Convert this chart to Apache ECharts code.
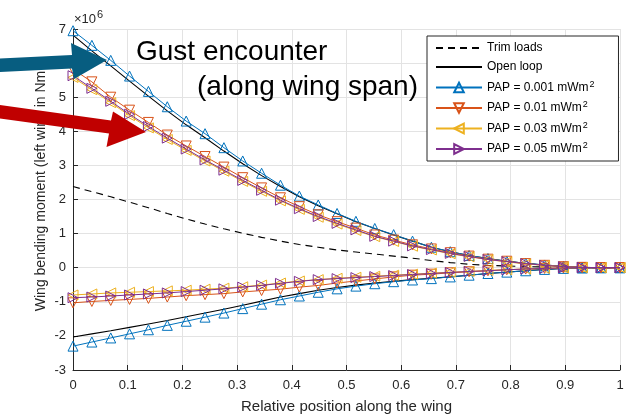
<!DOCTYPE html>
<html><head><meta charset="utf-8">
<script src="https://cdn.jsdelivr.net/npm/echarts@6/dist/echarts.min.js"></script>
<style>html,body{margin:0;padding:0;background:#fff}#c{width:631px;height:419px}</style>
</head><body><div id="c"></div>
<script>
// Relative position along the wing (30 stations)
const xPos = [0, 0.0345, 0.069, 0.1034, 0.1379, 0.1724, 0.2069, 0.2414, 0.2759, 0.3103,
  0.3448, 0.3793, 0.4138, 0.4483, 0.4828, 0.5172, 0.5517, 0.5862, 0.6207, 0.6552,
  0.6897, 0.7241, 0.7586, 0.7931, 0.8276, 0.8621, 0.8966, 0.9310, 0.9655, 1];
// values in units of 1e6 Nm
const trimLoads = [2.38, 2.23, 2.08, 1.92, 1.76, 1.59, 1.43, 1.28, 1.14, 1.01, 0.89, 0.78, 0.68, 0.60, 0.52, 0.46, 0.40, 0.34, 0.28, 0.21, 0.15, 0.10, 0.07, 0.05, 0.03, 0.02, 0.01, 0, 0, 0];
const openLoopTop = [6.82, 6.36, 5.92, 5.47, 5.03, 4.60, 4.19, 3.81, 3.42, 3.05, 2.70, 2.38, 2.08, 1.82, 1.58, 1.35, 1.15, 0.96, 0.78, 0.60, 0.47, 0.36, 0.27, 0.19, 0.13, 0.08, 0.04, 0.01, 0, 0];
const openLoopBottom = [-2.03, -1.94, -1.85, -1.75, -1.65, -1.55, -1.44, -1.33, -1.22, -1.10, -0.98, -0.86, -0.76, -0.66, -0.58, -0.51, -0.45, -0.40, -0.35, -0.31, -0.27, -0.22, -0.17, -0.13, -0.09, -0.05, -0.02, -0.01, 0, 0];
const pap001Top = [6.95, 6.52, 6.08, 5.62, 5.17, 4.72, 4.30, 3.93, 3.52, 3.13, 2.77, 2.42, 2.10, 1.84, 1.59, 1.36, 1.15, 0.97, 0.78, 0.60, 0.47, 0.36, 0.27, 0.19, 0.13, 0.08, 0.04, 0.01, 0, 0];
const pap001Bottom = [-2.30, -2.18, -2.06, -1.94, -1.82, -1.69, -1.57, -1.45, -1.33, -1.20, -1.07, -0.94, -0.83, -0.72, -0.62, -0.54, -0.47, -0.41, -0.36, -0.32, -0.27, -0.22, -0.17, -0.13, -0.09, -0.05, -0.02, -0.01, 0, 0];
const pap01Top = [5.82, 5.45, 5.00, 4.62, 4.26, 3.89, 3.57, 3.26, 2.95, 2.64, 2.34, 2.05, 1.79, 1.55, 1.35, 1.16, 0.96, 0.81, 0.67, 0.55, 0.44, 0.34, 0.25, 0.19, 0.12, 0.07, 0.03, 0.01, 0, 0];
const pap01Bottom = [-1.03, -0.99, -0.96, -0.93, -0.90, -0.86, -0.82, -0.79, -0.76, -0.71, -0.67, -0.63, -0.57, -0.52, -0.45, -0.39, -0.33, -0.27, -0.22, -0.19, -0.15, -0.12, -0.09, -0.06, -0.04, -0.02, -0.01, 0, 0, 0];
const pap03Top = [5.58, 5.22, 4.84, 4.46, 4.10, 3.76, 3.44, 3.13, 2.83, 2.53, 2.24, 1.96, 1.71, 1.48, 1.28, 1.09, 0.91, 0.77, 0.63, 0.52, 0.41, 0.32, 0.24, 0.17, 0.11, 0.07, 0.03, 0.01, 0, 0];
const pap03Bottom = [-0.80, -0.77, -0.74, -0.72, -0.70, -0.68, -0.66, -0.63, -0.60, -0.56, -0.51, -0.45, -0.39, -0.35, -0.31, -0.28, -0.25, -0.22, -0.19, -0.16, -0.13, -0.11, -0.08, -0.06, -0.04, -0.02, -0.01, 0, 0, 0];
const pap05Top = [5.63, 5.26, 4.88, 4.50, 4.14, 3.80, 3.48, 3.16, 2.86, 2.56, 2.27, 1.98, 1.73, 1.50, 1.30, 1.11, 0.92, 0.78, 0.64, 0.53, 0.42, 0.33, 0.24, 0.18, 0.12, 0.07, 0.03, 0.01, 0, 0];
const pap05Bottom = [-0.88, -0.86, -0.83, -0.80, -0.77, -0.74, -0.70, -0.66, -0.62, -0.57, -0.52, -0.46, -0.40, -0.35, -0.32, -0.29, -0.26, -0.23, -0.20, -0.17, -0.14, -0.11, -0.09, -0.06, -0.04, -0.02, -0.01, 0, 0, 0];

const names = ['Trim loads', 'Open loop', 'PAP = 0.001 mWm²', 'PAP = 0.01 mWm²', 'PAP = 0.03 mWm²', 'PAP = 0.05 mWm²'];
const FONT = 'Liberation Sans, Arial, Helvetica, sans-serif';

const chart = echarts.init(document.getElementById('c'), null, {renderer: 'canvas'});
const pts = arr => xPos.map((x, i) => [x, arr[i]]);

function plain(name, data, dashed, z) {
  return {name, type: 'line', data: pts(data), showSymbol: false, symbol: 'circle', symbolSize: 0,
    lineStyle: {color: '#000', width: 1.1, type: dashed ? [7, 5] : 'solid'},
    itemStyle: {color: 'rgba(0,0,0,0)', borderWidth: 0}, z, clip: false, animation: false, emphasis: {disabled: true}};
}
function marked(name, data, color, rot, z) {
  return {name, type: 'line', data: pts(data), symbol: 'triangle', symbolSize: 10, symbolRotate: rot,
    lineStyle: {color, width: 1}, itemStyle: {color: 'rgba(255,255,255,0)', borderColor: color, borderWidth: 1},
    z, clip: false, animation: false, emphasis: {disabled: true}};
}

const C1 = '#0072BD', C2 = '#D95319', C3 = '#EDB120', C4 = '#7E2F8E';

chart.setOption({
  backgroundColor: '#fff',
  animation: false,
  textStyle: {fontFamily: FONT},
  grid: {left: 73, right: 11, top: 29, bottom: 43, containLabel: false},
  xAxis: {
    type: 'value', min: 0, max: 1, interval: 0.1,
    name: 'Relative position along the wing', nameLocation: 'middle', nameGap: 29,
    nameTextStyle: {fontSize: 15, color: '#262626', fontFamily: FONT},
    axisLine: {onZero: false, lineStyle: {color: '#262626', width: 1}},
    axisTick: {inside: true, length: 5, lineStyle: {color: '#262626'}},
    axisLabel: {fontSize: 13, color: '#262626', margin: 9, fontFamily: FONT},
    splitLine: {show: true, lineStyle: {color: '#e3e3e3', width: 1}}
  },
  yAxis: {
    type: 'value', min: -3, max: 7, interval: 1,
    axisLine: {show: true, onZero: false, lineStyle: {color: '#262626', width: 1}},
    axisTick: {show: true, inside: true, length: 5, lineStyle: {color: '#262626'}},
    axisLabel: {fontSize: 13, color: '#262626', margin: 7, fontFamily: FONT},
    splitLine: {show: true, lineStyle: {color: '#e3e3e3', width: 1}}
  },
  legend: {
    orient: 'vertical', left: 427, top: 36, selectedMode: false,
    data: names,
    itemWidth: 46, itemHeight: 12, itemGap: 7,
    padding: [6, 24, 6, 8],
    backgroundColor: '#fff', borderColor: '#262626', borderWidth: 1,
    textStyle: {fontSize: 12, color: '#000', fontFamily: FONT,
      rich: {s: {fontSize: 9, padding: [0, 0, 6, 1], color: '#000', fontFamily: FONT}}},
    formatter: n => n.indexOf('²') >= 0 ? n.replace('²', '') + '{s|2}' : n
  },
  series: [
    plain(names[0], trimLoads, true, 2),
    plain(names[1], openLoopTop, false, 3),
    plain(names[1], openLoopBottom, false, 3),
    marked(names[2], pap001Top, C1, 0, 4),
    marked(names[2], pap001Bottom, C1, 0, 4),
    marked(names[3], pap01Top, C2, 180, 5),
    marked(names[3], pap01Bottom, C2, 180, 5),
    marked(names[4], pap03Top, C3, 90, 6),
    marked(names[4], pap03Bottom, C3, 90, 6),
    marked(names[5], pap05Top, C4, -90, 7),
    marked(names[5], pap05Bottom, C4, -90, 7)
  ],
  graphic: [
    {type: 'text', x: 74, y: 19, z: 20, style: {text: '{a|×10}{b|6}', textVerticalAlign: 'middle',
      rich: {a: {fontSize: 13, fill: '#262626', fontFamily: FONT}, b: {fontSize: 11, fill: '#262626', fontFamily: FONT, padding: [0, 0, 8, 1]}}}},
    {type: 'text', x: 41, y: 191, rotation: Math.PI / 2, z: 20,
      style: {text: 'Wing bending moment (left wing in Nm', font: '14px ' + FONT, fill: '#262626', textAlign: 'center', textVerticalAlign: 'middle'}},
    {type: 'text', x: 136, y: 52, z: 20,
      style: {text: 'Gust encounter', font: '28px ' + FONT, fill: '#000', textAlign: 'left', textVerticalAlign: 'middle'}},
    {type: 'text', x: 197, y: 87, z: 20,
      style: {text: '(along wing span)', font: '28px ' + FONT, fill: '#000', textAlign: 'left', textVerticalAlign: 'middle'}},
    {type: 'polygon', z: 30, shape: {points: [[0, 58.5], [72, 55], [71, 43], [107, 60], [74, 79], [72, 68.5], [0, 72]]},
      style: {fill: '#075d80'}},
    {type: 'polygon', z: 30, shape: {points: [[0, 105], [111, 120.5], [113, 111.5], [146, 132], [106.5, 147], [109, 133.5], [0, 118.5]]},
      style: {fill: '#c00000'}}
  ]
});
</script>
</body></html>
